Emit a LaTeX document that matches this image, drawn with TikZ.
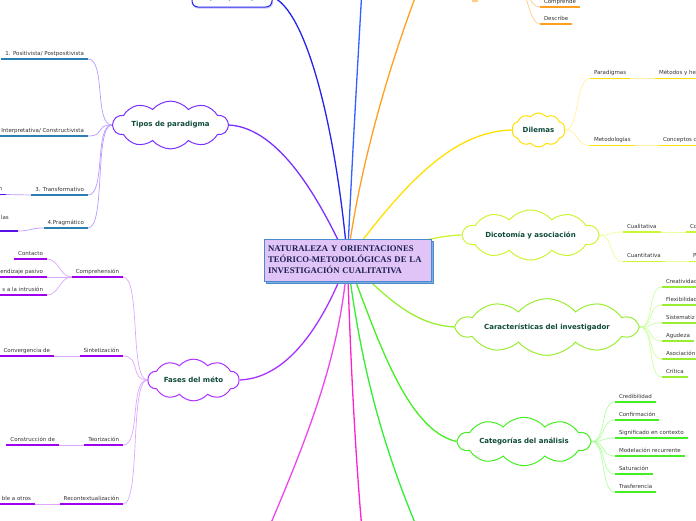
\documentclass[tikz,border=0pt]{standalone}
\usepackage{fontspec}
\setmainfont{DejaVu Sans}
\newfontfamily\boxfont{Liberation Serif}
\usetikzlibrary{shapes.symbols, shadows, backgrounds}

\definecolor{ctrfill}{HTML}{E0C4F8}
\definecolor{ctrline}{HTML}{4A8AD0}
\definecolor{ctrtext}{HTML}{1E1E50}
\definecolor{bubtext}{HTML}{0E4A3A}
\definecolor{leaftext}{HTML}{333333}
\definecolor{topblue}{HTML}{2424EE}
\definecolor{upblue}{HTML}{3360FF}
\definecolor{orgmain}{HTML}{FFA020}
\definecolor{orglite}{HTML}{FFCC88}
\definecolor{yelmain}{HTML}{FFE000}
\definecolor{yellite}{HTML}{FFF0A0}
\definecolor{dicmain}{HTML}{CCF533}
\definecolor{diclite}{HTML}{E8FFA0}
\definecolor{carmain}{HTML}{99EE33}
\definecolor{carlite}{HTML}{CCFFA0}
\definecolor{catmain}{HTML}{44EE22}
\definecolor{catlite}{HTML}{B0FFA0}
\definecolor{tipmain}{HTML}{7A30FF}
\definecolor{tiplite}{HTML}{BB99FF}
\definecolor{tipleaf}{HTML}{2A80B0}
\definecolor{tipsub}{HTML}{5A10E8}
\definecolor{fasmain}{HTML}{AA30FF}
\definecolor{faslite}{HTML}{DCA8FF}
\definecolor{fasleaf}{HTML}{A000F0}
\definecolor{pinkmain}{HTML}{FF22CC}
\definecolor{magmain}{HTML}{EE44EE}
\definecolor{grnmain}{HTML}{33EE33}

\tikzset{
  leaf/.style={font=\fontsize{5.5}{6.5}\selectfont, text=leaftext,
    inner xsep=4pt, inner ysep=2.6pt, text height=4.2pt, text depth=1.4pt, outer sep=0pt,
    append after command={(\tikzlastnode.south west) edge[draw=#1, line width=1.8pt] (\tikzlastnode.south east)}},
  twig/.style={draw=#1, line width=0.7pt},
  branch/.style={draw=#1, line width=1.3pt},
  bubble/.style={cloud, cloud puffs=10, cloud puff arc=100, draw=#1, line width=1pt, fill=white,
    text=bubtext, font=\bfseries\fontsize{7}{8}\selectfont, inner sep=0pt},
}

\begin{document}
\begin{tikzpicture}[x=1pt, y=-1pt]
  \useasboundingbox (0,0) rectangle (696,520);
  \clip (0,0) rectangle (696,520);

  % tema central
  \node[draw=ctrline, fill=ctrfill, line width=0.8pt, minimum width=167pt, minimum height=42pt,
    text width=159pt, inner sep=4pt, align=left, text=ctrtext,
    font=\boxfont\bfseries\fontsize{8.7}{11}\selectfont,
    copy shadow={shadow xshift=2.5pt, shadow yshift=-2.5pt, draw=ctrline, fill=ctrline!70}]
    (ctr) at (347.5,260) {NATURALEZA Y ORIENTACIONES\\TEÓRICO-METODOLÓGICAS DE LA\\INVESTIGACIÓN CUALITATIVA};

  % temas principales
  \node[draw=topblue, rounded corners=6pt, line width=1pt, fill=white, minimum width=80pt, minimum height=20pt,
    text=bubtext, font=\bfseries\fontsize{7}{8}\selectfont,
    copy shadow={shadow xshift=0.6pt, shadow yshift=-1.2pt, draw=topblue!25, fill=topblue!10}]
    (topico) at (232,-3) {Tópico principal};
  \node[bubble=tipmain, aspect=3.3, minimum width=115pt, minimum height=35pt] (tipos) at (170.5,125) {Tipos de paradigma};
  \node[bubble=fasmain, aspect=2.7, minimum width=91pt, minimum height=34pt] (fases) at (193.5,380) {Fases del méto};
  \node[bubble=yelmain, aspect=1.55, minimum width=53pt, minimum height=34pt] (dilem) at (538.5,130) {Dilemas};
  \node[bubble=dicmain, aspect=3.85, minimum width=135pt, minimum height=35pt] (dicot) at (530.5,235) {Dicotomía y asociación};
  \node[bubble=carmain, aspect=5.45, minimum width=180pt, minimum height=33pt] (caract) at (547,327) {Características del investigador};
  \node[bubble=catmain, aspect=4, minimum width=132pt, minimum height=33pt] (categ) at (524,441.5) {Categorías del análisis};

  % ramas fuera del cuadro
  \coordinate (bluetop) at (362,-12);
  \coordinate (orgtop) at (418,-10);
  \coordinate (orgpar) at (515,-18);
  \coordinate (pinkbot) at (362,530);
  \coordinate (magbot) at (268,530);
  \coordinate (grnbot) at (418,530);
  \coordinate (orgbitA) at (472,0.8);
  \coordinate (orgbitB) at (478,0.8);

  % hojas: orientaciones (naranja)
  \node[leaf=orgmain, anchor=south west] (compre) at (540,7) {Comprende};
  \node[leaf=orgmain, anchor=south west] (descri) at (540,24) {Describe};

  % hojas: dilemas
  \node[leaf=yelmain, anchor=south west] (paradig) at (590,78.5) {Paradigmas};
  \node[leaf=yelmain, anchor=south west] (metherr) at (655,78.5) {Métodos y he};
  \node[leaf=yelmain, anchor=south west] (metodol) at (590,145.5) {Metodologías};
  \node[leaf=yelmain, anchor=south west] (concep) at (659,145.5) {Conceptos c};

  % hojas: dicotomia
  \node[leaf=dicmain, anchor=south west] (cualit) at (623,232) {Cualitativa};
  \node[leaf=dicmain, anchor=south west] (cocut) at (686,232) {Co};
  \node[leaf=dicmain, anchor=south west] (cuantit) at (623,261.5) {Cuantitativa};
  \node[leaf=dicmain, anchor=south west] (pcut) at (689,261.5) {P};

  % hojas: caracteristicas
  \node[leaf=carmain, anchor=south west] (creat) at (662,287) {Creatividad};
  \node[leaf=carmain, anchor=south west] (flexi) at (662,305) {Flexibilidad};
  \node[leaf=carmain, anchor=south west] (siste) at (662,323) {Sistematiz};
  \node[leaf=carmain, anchor=south west] (agude) at (662,341) {Agudeza};
  \node[leaf=carmain, anchor=south west] (asoci) at (662,359) {Asociación};
  \node[leaf=carmain, anchor=south west] (criti) at (662,377) {Crítica};

  % hojas: categorias
  \node[leaf=catmain, anchor=south west] (credi) at (615,402) {Credibilidad};
  \node[leaf=catmain, anchor=south west] (confi) at (615,420) {Confirmación};
  \node[leaf=catmain, anchor=south west] (signi) at (615,438) {Significado en contexto};
  \node[leaf=catmain, anchor=south west] (model) at (615,456) {Modelación recurrente};
  \node[leaf=catmain, anchor=south west] (satur) at (615,474) {Saturación};
  \node[leaf=catmain, anchor=south west] (trasf) at (615,492) {Trasferencia};

  % hojas: tipos de paradigma
  \node[leaf=tipleaf, anchor=south east] (posit) at (88,59) {1. Positivista/ Postpositivista};
  \node[leaf=tipleaf, anchor=south east] (interp) at (88,136) {Interpretativa/ Constructivista};
  \node[leaf=tipleaf, anchor=south east] (transf) at (88,195) {3. Transformativo};
  \node[leaf=tipleaf, anchor=south east] (pragm) at (88,228) {4.Pragmático};
  \node[leaf=tipsub, anchor=south east] (tsubA) at (6,194.5) {n};
  \node[leaf=tipsub, anchor=south east, text width=13pt, align=left, text depth=9pt] (tsubB) at (18,231) {las};

  % hojas: fases
  \node[leaf=fasleaf, anchor=south east] (compr) at (123,277) {Comprehensión};
  \node[leaf=fasleaf, anchor=south east] (sinte) at (123,356) {Sintetización};
  \node[leaf=fasleaf, anchor=south east] (teori) at (123,445) {Teorización};
  \node[leaf=fasleaf, anchor=south east] (recon) at (123,504) {Recontextualización};
  \node[leaf=fasleaf, anchor=south east] (contac) at (47,259) {Contacto};
  \node[leaf=fasleaf, anchor=south east] (aprend) at (47,277) {endizaje pasivo};
  \node[leaf=fasleaf, anchor=south east] (intrus) at (47,295) {s a la intrusión};
  \node[leaf=fasleaf, anchor=south east] (converg) at (54,356) {Convergencia de};
  \node[leaf=fasleaf, anchor=south east] (constr) at (59,445) {Construcción de};
  \node[leaf=fasleaf, anchor=south east] (otros) at (35,504) {ble a otros};

  \begin{scope}[on background layer]
    % ramas principales
    \draw[branch=topblue] (ctr.center) .. controls (335,120) and (305,10) .. (topico.east);
    \draw[branch=upblue] (ctr.center) .. controls (352,160) and (358,60) .. (bluetop);
    \draw[branch=orgmain] (ctr.center) .. controls (356,190) and (380,90) .. (orgtop);
    \draw[branch=yelmain] (ctr.center) .. controls (400,190) and (450,131) .. (dilem.west);
    \draw[branch=dicmain] (ctr.center) .. controls (400,248) and (430,236) .. (dicot.west);
    \draw[branch=carmain] (ctr.center) .. controls (380,290) and (410,325) .. (caract.west);
    \draw[branch=catmain] (ctr.center) .. controls (375,330) and (405,430) .. (categ.west);
    \draw[branch=grnmain] (ctr.center) .. controls (360,360) and (380,440) .. (grnbot);
    \draw[branch=pinkmain] (ctr.center) .. controls (350,350) and (355,450) .. (pinkbot);
    \draw[branch=magmain] (ctr.center) .. controls (340,350) and (315,420) .. (magbot);
    \draw[branch=fasmain] (ctr.center) .. controls (325,320) and (290,378) .. (fases.east);
    \draw[branch=tipmain] (ctr.center) .. controls (320,200) and (280,128) .. (tipos.east);

    % conectores de hojas
    \foreach \n in {compre, descri}
      \draw[twig=orglite] (orgpar) .. controls +(12,0) and +(-12,0) .. (\n.south west);
    \draw[twig=orglite, line width=1.6pt] (orgbitA) -- (orgbitB);
    \foreach \n in {paradig, metodol}
      \draw[twig=yellite] (dilem.east) .. controls +(15,0) and +(-15,0) .. (\n.south west);
    \draw[twig=yellite] (paradig.south east) -- (metherr.south west);
    \draw[twig=yellite] (metodol.south east) -- (concep.south west);
    \foreach \n in {cualit, cuantit}
      \draw[twig=diclite] (dicot.east) .. controls +(15,0) and +(-15,0) .. (\n.south west);
    \draw[twig=diclite] (cualit.south east) -- (cocut.south west);
    \draw[twig=diclite] (cuantit.south east) -- (pcut.south west);
    \foreach \n in {creat, flexi, siste, agude, asoci, criti}
      \draw[twig=carlite] (caract.east) .. controls +(15,0) and +(-15,0) .. (\n.south west);
    \foreach \n in {credi, confi, signi, model, satur, trasf}
      \draw[twig=catlite] (categ.east) .. controls +(15,0) and +(-15,0) .. (\n.south west);
    \foreach \n in {posit, interp, transf, pragm}
      \draw[twig=tiplite] (tipos.west) .. controls +(-18,0) and +(18,0) .. (\n.south east);
    \draw[twig=tiplite] (transf.south west) -- (tsubA.south east);
    \draw[twig=tiplite] (pragm.south west) .. controls +(-12,0) and +(12,0) .. (tsubB.south east);
    \foreach \n in {compr, sinte, teori, recon}
      \draw[twig=faslite] (fases.west) .. controls +(-18,0) and +(18,0) .. (\n.south east);
    \foreach \n in {contac, aprend, intrus}
      \draw[twig=faslite] (compr.south west) .. controls +(-12,0) and +(12,0) .. (\n.south east);
    \draw[twig=faslite] (sinte.south west) -- (converg.south east);
    \draw[twig=faslite] (teori.south west) -- (constr.south east);
    \draw[twig=faslite] (recon.south west) -- (otros.south east);
  \end{scope}
\end{tikzpicture}
\end{document}
